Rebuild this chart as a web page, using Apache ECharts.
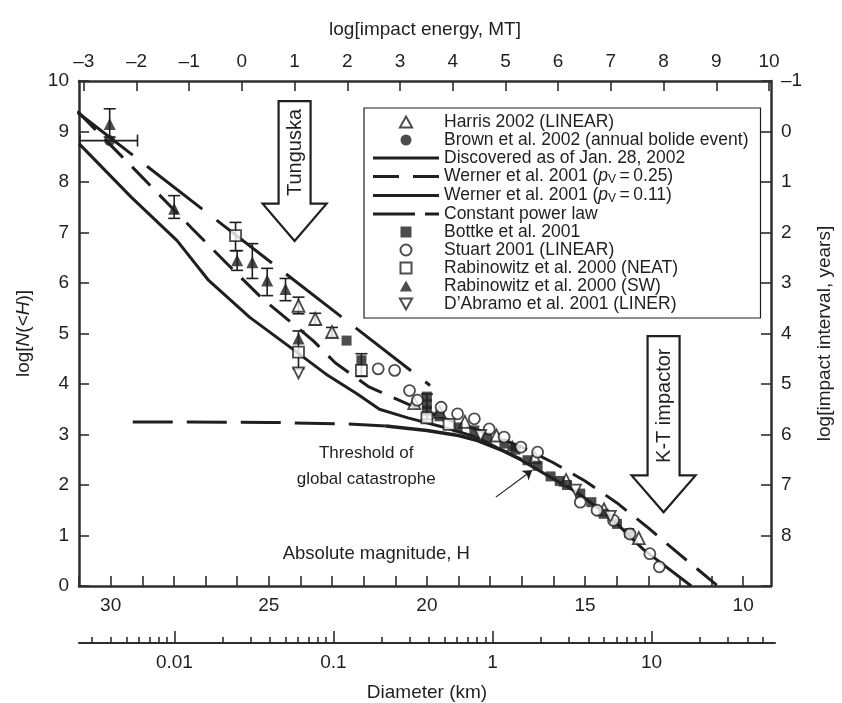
<!DOCTYPE html>
<html>
<head>
<meta charset="utf-8">
<title>NEA size distribution</title>
<script src="https://cdn.jsdelivr.net/npm/echarts@6/dist/echarts.min.js"></script>
<style>
  html, body { margin: 0; padding: 0; background: #fff; }
  #chart { width: 842px; height: 703px; }
</style>
</head>
<body>
<div id="chart"></div>
<script>
// ---- axes / tick labels ----
var hRange = [9.12, 31.0]            // absolute magnitude shown (right .. left)
var hTicks = [10, 11, 12, 13, 14, 15, 16, 17, 18, 19, 20, 21, 22, 23, 24, 25, 26, 27, 28, 29, 30, 31]
var hLabels = [10, 15, 20, 25, 30]
var energyLabels = [-3, -2, -1, 0, 1, 2, 3, 4, 5, 6, 7, 8, 9, 10]
var intervalRange = [-1, 9]
var diameterLabels = [0.01, 0.1, 1, 10]
var diameterDecades = [0.001, 0.01, 0.1, 1, 10]
var diameterMultiples = [2, 3, 4, 5, 6, 7, 8, 9]

// ---- data, [H, log N(<H)] ----
var harris = [[24.06, 5.55], [23.53, 5.29], [23.0, 5.03], [20.4, 3.62], [19.6, 3.45], [18.8, 3.25],
  [17.8, 2.98], [16.6, 2.55], [15.6, 2.1], [14.4, 1.52], [13.3, 0.95]]
var brown = [[30.03, 8.82]]
var bottke = [[22.54, 4.86], [22.07, 4.47], [20.0, 3.75], [20.0, 3.6], [20.0, 3.47], [19.6, 3.36],
  [19.03, 3.14], [18.5, 3.08], [18.1, 2.94], [17.55, 2.82], [17.2, 2.7], [16.82, 2.49], [16.5, 2.38],
  [16.09, 2.17], [15.8, 2.08], [15.57, 2.0], [15.15, 1.83], [14.8, 1.66], [14.41, 1.43], [13.99, 1.23], [13.6, 1.05]]
var stuart = [[21.54, 4.3], [21.02, 4.27], [20.55, 3.87], [20.3, 3.68], [19.55, 3.54], [19.03, 3.41],
  [18.5, 3.31], [18.03, 3.11], [17.56, 2.95], [17.03, 2.75], [16.5, 2.65], [15.15, 1.66], [14.62, 1.5],
  [14.1, 1.3], [13.58, 1.03], [12.95, 0.64], [12.65, 0.38]]
var rabNeat = [[26.05, 6.94], [24.06, 4.63], [22.07, 4.27], [20.0, 3.33], [19.3, 3.2]]
var rabSW = [[30.03, 9.15], [27.99, 7.47], [26.0, 6.45], [25.52, 6.41], [25.05, 6.05], [24.47, 5.88],
  [24.06, 4.9], [17.3, 2.78]]
var dabramo = [[24.06, 4.22], [18.3, 2.98], [15.3, 1.9], [14.2, 1.38]]

// [H, low, high]
var errorBars = [[30.03, 8.89, 9.45], [27.99, 7.28, 7.73], [26.05, 6.64, 7.2], [26.0, 6.25, 6.64],
  [25.52, 6.09, 6.78], [25.05, 5.75, 6.29], [24.47, 5.65, 6.09], [24.06, 5.39, 5.72], [23.53, 5.17, 5.4],
  [23.0, 4.93, 5.12], [24.06, 4.3, 5.05], [22.07, 4.15, 4.6], [20.0, 3.3, 3.8]]
// [log N, H from, H to]
var brownBar = [[8.82, 30.97, 29.15]]

var discovered = [[21.3, 3.17], [20.0, 3.08], [19.0, 2.98], [18.4, 2.88], [17.6, 2.68], [17.0, 2.5]]
var discoveredFaint = [[29.3, 3.25], [25.0, 3.24], [22.5, 3.21], [21.3, 3.17]]
var wernerHigh = [[31.05, 9.4], [29.15, 8.19], [27.41, 7.07], [26.35, 6.4], [25.2, 5.69], [23.6, 4.86],
  [22.9, 4.42], [21.85, 3.95], [20.6, 3.6], [19.5, 3.33], [18.3, 3.07], [17.0, 2.75], [16.0, 2.44],
  [15.0, 2.08], [14.0, 1.65], [13.0, 1.15], [12.0, 0.62], [10.8, 0]]
var wernerLow = [[31.0, 8.76], [29.35, 7.7], [27.9, 6.84], [26.9, 6.05], [25.6, 5.32], [24.37, 4.75],
  [23.2, 4.2], [22.2, 3.8], [21.5, 3.5], [20.6, 3.33], [19.5, 3.15], [18.4, 2.94], [17.04, 2.5],
  [16.3, 2.23], [15.25, 1.85], [14.2, 1.36], [13.15, 0.72], [11.64, 0]]
var powerLaw = [[31.05, 9.38], [19.9, 3.97]]

// annotations
var bigArrows = [[1, 9.6, 7.57, 6.83], [8, 4.95, 2.19, 1.46]]   // [log E, top, neck, tip]
var bigArrowNames = ['Tunguska', 'K-T impactor']
var thresholdArrow = [[17.82, 1.76], [16.67, 2.29]]
var notes = [[21.92, 2.37], [21.6, 0.64]]
var noteTexts = ['Threshold of\nglobal catastrophe', 'Absolute magnitude, H']

// ---- conversions between the stacked x scales ----
function energyOfH (h) { return -2.49 + (30 - h) * 0.6 }
function logDOfH (h) { return -2 + (28 - h) / 5 }

var ink = '#1f1f1f'
var frame = '#2e2e2e'
var font = "'Liberation Sans', Arial, Helvetica, sans-serif"

var dMajor = diameterLabels.map(function (d) { return Math.log10(d) })
var dMinor = []
diameterDecades.forEach(function (dec) {
  diameterMultiples.forEach(function (k) { dMinor.push(Math.log10(k * dec)) })
})

function minus (v) { return v < 0 ? '\u2013' + (-v) : String(v) }

var chart = echarts.init(document.getElementById('chart'))

function axisBase () {
  return {
    axisLine: { show: true, onZero: false, lineStyle: { color: frame, width: 2.5 } },
    axisTick: { show: true, inside: true, length: 10, lineStyle: { color: frame, width: 1.6 } },
    axisLabel: { color: ink, fontSize: 19, fontFamily: font, margin: 10 },
    splitLine: { show: false },
    nameTextStyle: { color: ink, fontSize: 19, fontFamily: font }
  }
}

var xH = axisBase()
Object.assign(xH, { type: 'value', position: 'bottom', inverse: true, min: hRange[0], max: hRange[1] })
xH.axisTick.customValues = hTicks
xH.axisLabel.customValues = hLabels

var xE = axisBase()
Object.assign(xE, {
  type: 'value', position: 'top', min: energyOfH(hRange[1]), max: energyOfH(hRange[0]),
  name: 'log[impact energy, MT]', nameLocation: 'middle', nameGap: 42
})
xE.axisTick.customValues = energyLabels
xE.axisLabel.customValues = energyLabels
xE.axisLabel.formatter = minus

var xD = axisBase()
Object.assign(xD, {
  gridIndex: 1, type: 'value', position: 'bottom', min: logDOfH(hRange[1]), max: logDOfH(hRange[0]),
  name: 'Diameter (km)', nameLocation: 'middle', nameGap: 40
})
xD.axisLine.lineStyle.width = 2
xD.axisTick.customValues = dMajor
xD.axisTick.length = 12
xD.axisLabel.customValues = dMajor
xD.axisLabel.formatter = function (v) {
  var i = dMajor.findIndex(function (m) { return Math.abs(m - v) < 1e-6 })
  return i < 0 ? '' : String(diameterLabels[i])
}

var xDMinor = axisBase()
Object.assign(xDMinor, { gridIndex: 2, type: 'value', position: 'bottom', min: xD.min, max: xD.max })
xDMinor.axisLine.show = false
xDMinor.axisTick.customValues = dMinor
xDMinor.axisTick.length = 6
xDMinor.axisLabel = { show: false }

var yN = axisBase()
Object.assign(yN, {
  type: 'value', position: 'left', min: 0, max: 10, interval: 1,
  name: 'log[{i|N}(<{i|H})]', nameLocation: 'middle', nameRotate: 90, nameGap: 46
})
yN.nameTextStyle.rich = { i: { fontStyle: 'italic', fontSize: 19, fontFamily: font, color: ink } }

var yI = axisBase()
Object.assign(yI, {
  type: 'value', position: 'right', inverse: true, min: intervalRange[0], max: intervalRange[1], interval: 1,
  name: 'log[impact interval, years]', nameLocation: 'middle', nameRotate: 90, nameGap: 44
})
yI.axisLabel.formatter = function (v) { return v === intervalRange[1] ? '' : minus(v) }

// marker shapes (shared by plot and legend)
var triUp = 'path://M5,0L10,9L0,9Z'
var triDown = 'path://M0,0L10,0L5,9Z'
var square = 'path://M0,0h10v10h-10z'
var solidIcon = 'path://M0,0h66v3h-66z'
var dashIcon = 'path://M0,0h26v3h-26zM40,0h26v3h-26z'
var powerIcon = 'path://M0,0h42v3h-42zM52,0h14v3h-14z'

function scatter (name, data, symbol, size, filled) {
  return {
    name: name, type: 'scatter', data: data, symbol: symbol, symbolSize: size, z: 4,
    itemStyle: filled ? { color: ink, borderWidth: 0 } : { color: '#fff', borderColor: ink, borderWidth: 1.8 }
  }
}
function line (name, data, type, width) {
  return {
    name: name, type: 'line', data: data, symbol: 'none', z: 2,
    itemStyle: { color: ink },
    lineStyle: { color: ink, width: width || 3, type: type || 'solid' }
  }
}

var names = {
  harris: 'Harris 2002 (LINEAR)',
  brown: 'Brown et al. 2002 (annual bolide event)',
  disc: 'Discovered as of Jan. 28, 2002',
  w25: 'Werner et al. 2001 (pV=0.25)',
  w11: 'Werner et al. 2001 (pV=0.11)',
  pl: 'Constant power law',
  bottke: 'Bottke et al. 2001',
  stuart: 'Stuart 2001 (LINEAR)',
  neat: 'Rabinowitz et al. 2000 (NEAT)',
  sw: 'Rabinowitz et al. 2000 (SW)',
  dab: 'D\u2019Abramo et al. 2001 (LINER)'
}
var lineIconStyle = { color: ink, borderWidth: 0 }

chart.setOption({
  animation: false,
  backgroundColor: '#fff',
  grid: [
    { left: 79, right: 67, top: 81, bottom: 117 },
    { left: 79, right: 67, top: 610, bottom: 60 },
    { left: 79, right: 67, top: 610, bottom: 60 }
  ],
  xAxis: [xH, xE, xD, xDMinor],
  yAxis: [yN, yI, { gridIndex: 1, show: false }, { gridIndex: 2, show: false }],
  legend: {
    orient: 'vertical', left: 364, top: 108,
    padding: [5, 12, 5, 9],
    borderColor: ink, borderWidth: 1.2, backgroundColor: '#fff',
    itemWidth: 66, itemHeight: 11, itemGap: 0,
    symbolKeepAspect: true,
    selectedMode: false,
    textStyle: {
      color: ink, fontSize: 17.5, fontFamily: font, lineHeight: 16,
      rich: {
        it: { fontStyle: 'italic', fontSize: 17.5, fontFamily: font, color: ink, lineHeight: 16 },
        sub: { fontSize: 12, fontFamily: font, color: ink, lineHeight: 16, padding: [7, 0, 0, 0] }
      }
    },
    formatter: function (name) {
      var m = name.match(/^(.*)\(pV=(.*)\)$/)
      return m ? m[1] + '({it|p}{sub|V}\u2009=\u2009' + m[2] + ')' : name
    },
    data: [
      { name: names.harris, icon: triUp },
      { name: names.brown, icon: 'circle' },
      { name: names.disc, icon: solidIcon, itemStyle: lineIconStyle },
      { name: names.w25, icon: dashIcon, itemStyle: lineIconStyle },
      { name: names.w11, icon: solidIcon, itemStyle: lineIconStyle },
      { name: names.pl, icon: powerIcon, itemStyle: lineIconStyle },
      { name: names.bottke, icon: square },
      { name: names.stuart, icon: 'circle' },
      { name: names.neat, icon: square },
      { name: names.sw, icon: triUp },
      { name: names.dab, icon: triDown }
    ]
  },
  series: [
    line(names.disc, discovered, 'solid', 3.5),
    line(names.disc, discoveredFaint, [40, 14], 3),
    line(names.w25, wernerHigh, [26, 13], 3),
    line(names.w11, wernerLow, 'solid', 3),
    line(names.pl, powerLaw, [70, 18], 3),
    scatter(names.harris, harris, triUp, 12, false),
    scatter(names.brown, brown, 'circle', 11, true),
    scatter(names.bottke, bottke, square, 10, true),
    scatter(names.stuart, stuart, 'circle', 11, false),
    scatter(names.neat, rabNeat, square, 11, false),
    scatter(names.sw, rabSW, triUp, 12, true),
    scatter(names.dab, dabramo, triDown, 11, false),
    {
      // vertical error bars
      type: 'custom', data: errorBars, z: 3, silent: true,
      renderItem: function (params, api) {
        var a = api.coord([api.value(0), api.value(1)])
        var b = api.coord([api.value(0), api.value(2)])
        var st = { stroke: ink, lineWidth: 1.6 }
        return { type: 'group', children: [
          { type: 'line', shape: { x1: a[0], y1: a[1], x2: b[0], y2: b[1] }, style: st },
          { type: 'line', shape: { x1: a[0] - 6, y1: a[1], x2: a[0] + 6, y2: a[1] }, style: st },
          { type: 'line', shape: { x1: b[0] - 6, y1: b[1], x2: b[0] + 6, y2: b[1] }, style: st }
        ] }
      }
    },
    {
      // horizontal error bar of the bolide point
      type: 'custom', data: brownBar, z: 3, silent: true,
      renderItem: function (params, api) {
        var a = api.coord([api.value(1), api.value(0)])
        var b = api.coord([api.value(2), api.value(0)])
        var st = { stroke: ink, lineWidth: 1.6 }
        return { type: 'group', children: [
          { type: 'line', shape: { x1: a[0], y1: a[1], x2: b[0], y2: b[1] }, style: st },
          { type: 'line', shape: { x1: a[0], y1: a[1] - 6, x2: a[0], y2: a[1] + 6 }, style: st },
          { type: 'line', shape: { x1: b[0], y1: b[1] - 6, x2: b[0], y2: b[1] + 6 }, style: st }
        ] }
      }
    },
    {
      // Tunguska / K-T hollow arrows, placed on the energy scale
      type: 'custom', xAxisIndex: 1, data: bigArrows, z: 5, silent: true,
      renderItem: function (params, api) {
        var e = api.value(0)
        var top = api.coord([e, api.value(1)])
        var neck = api.coord([e, api.value(2)])[1]
        var tip = api.coord([e, api.value(3)])[1]
        var cx = top[0]
        var sw = 16
        var hw = 32
        return { type: 'group', children: [
          { type: 'polygon', shape: { points: [[cx - sw, top[1]], [cx + sw, top[1]], [cx + sw, neck], [cx + hw, neck],
            [cx, tip], [cx - hw, neck], [cx - sw, neck]] }, style: { fill: '#fff', stroke: ink, lineWidth: 2.2 } },
          { type: 'text', x: cx + 1, y: (top[1] + neck) / 2, rotation: Math.PI / 2,
            style: { text: bigArrowNames[params.dataIndex], fontSize: 20, fontFamily: font, fill: ink,
              align: 'center', verticalAlign: 'middle' } }
        ] }
      }
    },
    {
      type: 'lines', coordinateSystem: 'cartesian2d', symbol: ['none', 'arrow'], symbolSize: 9, z: 5,
      lineStyle: { color: ink, width: 1.2, opacity: 1 },
      data: [{ coords: thresholdArrow }]
    },
    {
      type: 'custom', data: notes, z: 5, silent: true,
      renderItem: function (params, api) {
        var p = api.coord([api.value(0), api.value(1)])
        return { type: 'text', x: p[0], y: p[1],
          style: { text: noteTexts[params.dataIndex], fontSize: params.dataIndex ? 18.5 : 17, fontFamily: font,
            fill: ink, align: 'center', verticalAlign: 'middle', lineHeight: 26 } }
      }
    }
  ]
})
</script>
</body>
</html>
